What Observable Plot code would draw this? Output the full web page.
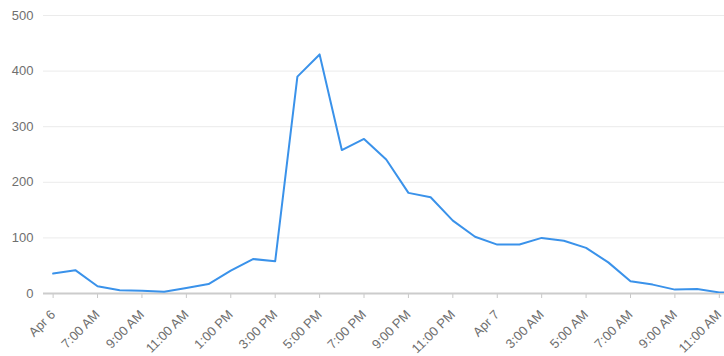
<!DOCTYPE html>
<html><head><meta charset="utf-8">
<script src="https://cdn.jsdelivr.net/npm/d3@7"></script>
<script src="https://cdn.jsdelivr.net/npm/@observablehq/plot@0.6"></script>
<style>
body{margin:0;background:#fff;}
#chart svg text{font-size:13px;font-family:Arial,"Liberation Sans",sans-serif;}
</style>
</head><body><div id="chart"></div>
<script>
const hours = [
  "2024-04-06T05:00","2024-04-06T06:00","2024-04-06T07:00","2024-04-06T08:00","2024-04-06T09:00",
  "2024-04-06T10:00","2024-04-06T11:00","2024-04-06T12:00","2024-04-06T13:00","2024-04-06T14:00",
  "2024-04-06T15:00","2024-04-06T16:00","2024-04-06T17:00","2024-04-06T18:00","2024-04-06T19:00",
  "2024-04-06T20:00","2024-04-06T21:00","2024-04-06T22:00","2024-04-06T23:00","2024-04-07T00:00",
  "2024-04-07T01:00","2024-04-07T02:00","2024-04-07T03:00","2024-04-07T04:00","2024-04-07T05:00",
  "2024-04-07T06:00","2024-04-07T07:00","2024-04-07T08:00","2024-04-07T09:00","2024-04-07T10:00",
  "2024-04-07T11:00","2024-04-07T12:00"
];
const values = [36,42,13,6,5,3,10,17,41,62,58,390,430,258,278,241,181,173,131,102,88,88,100,95,82,56,22,16,7,8,2,0];
const tickTimes = [
  "2024-04-06T05:00","2024-04-06T07:00","2024-04-06T09:00","2024-04-06T11:00","2024-04-06T13:00",
  "2024-04-06T15:00","2024-04-06T17:00","2024-04-06T19:00","2024-04-06T21:00","2024-04-06T23:00",
  "2024-04-07T01:00","2024-04-07T03:00","2024-04-07T05:00","2024-04-07T07:00","2024-04-07T09:00",
  "2024-04-07T11:00"
];
const tickLabels = ["Apr 6","7:00 AM","9:00 AM","11:00 AM","1:00 PM","3:00 PM","5:00 PM","7:00 PM",
  "9:00 PM","11:00 PM","Apr 7","3:00 AM","5:00 AM","7:00 AM","9:00 AM","11:00 AM"];
const yTicks = [0,100,200,300,400,500];
const xDomain = ["2024-04-06T04:34","2024-04-07T11:14"];

const parse = d3.utcParse("%Y-%m-%dT%H:%M");
const data = hours.map((h, i) => ({t: parse(h), v: values[i]}));
const tickDates = tickTimes.map(parse);
const labelOf = new Map(tickDates.map((d, i) => [+d, tickLabels[i]]));

const chart = Plot.plot({
  width: 724, height: 356,
  marginLeft: 43, marginRight: 0, marginTop: 15, marginBottom: 63,
  style: {fontFamily: "Arial, 'Liberation Sans', sans-serif", fontSize: "13px", color: "#6f6f6f", background: "#fff"},
  x: {type: "utc", domain: xDomain.map(parse)},
  y: {domain: [0, 500]},
  marks: [
    Plot.gridY(yTicks, {stroke: "#ebebeb", strokeOpacity: 1}),
    Plot.axisY(yTicks, {tickSize: 0, tickPadding: 10, label: null}),
    Plot.axisX(tickDates, {tickSize: 5, stroke: "#c8c8c8", tickRotate: -45, tickPadding: 14,
      tickFormat: d => labelOf.get(+d), label: null}),
    Plot.ruleY([0], {stroke: "#cccccc", strokeWidth: 2}),
    Plot.line(data, {x: "t", y: "v", stroke: "#3a92ea", strokeWidth: 2, clip: true})
  ]
});
document.getElementById("chart").append(chart);
</script>
</body></html>
